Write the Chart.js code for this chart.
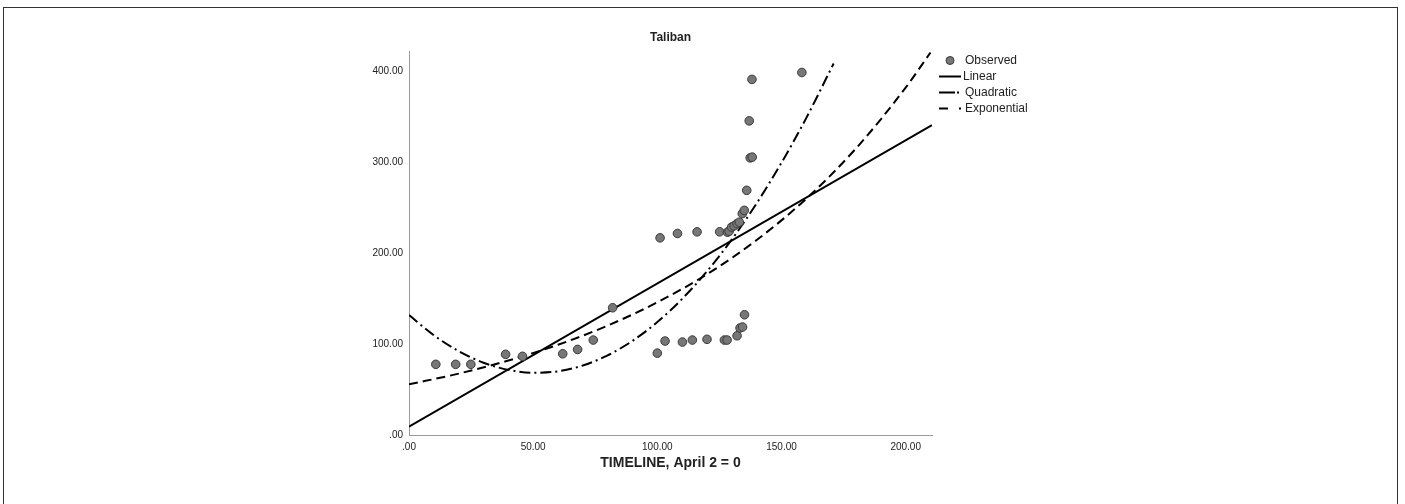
<!DOCTYPE html>
<html>
<head>
<meta charset="utf-8">
<script src="https://cdn.jsdelivr.net/npm/chart.js@4.4.1/dist/chart.umd.min.js"></script>
<style>
html, body { margin: 0; padding: 0; background: #fff; }
#wrap { position: relative; width: 1405px; height: 504px; overflow: hidden; }
#frame { position: absolute; left: 3px; top: 7px; width: 1395px; height: 520px; border: 1px solid #333; box-sizing: border-box; }
canvas { position: absolute; left: 0; top: 0; }
</style>
</head>
<body>
<div id="wrap">
  <div id="frame"></div>
  <canvas id="chart" width="1405" height="504"></canvas>
</div>
<script>
// observed points (x = days since April 2)
const obsX = [10.8, 18.8, 24.9, 38.9, 45.7, 61.9, 67.9, 74.2, 82.0, 100.0,
              101.1, 103.1, 108.1, 110.1, 114.1, 116.0, 120.0, 125.1, 127.0, 128.1,
              128.2, 128.9, 129.9, 130.9, 132.1, 132.1, 133.0, 133.3, 134.2, 134.3,
              135.0, 135.1, 136.0, 137.0, 137.4, 138.1, 138.2, 158.2];
const obsY = [77.7, 77.7, 77.7, 88.7, 86.5, 89.3, 94.1, 104.4, 139.9, 90.0,
              216.8, 103.3, 221.6, 102.2, 104.4, 223.4, 105.2, 223.4, 104.4, 104.4,
              223.0, 224.0, 228.6, 230.0, 232.4, 109.1, 234.0, 117.6, 243.4, 118.7,
              247.0, 132.2, 269.0, 345.4, 304.7, 391.0, 305.5, 398.6];

// fitted curves
const linX = [0, 210.6];
const linY = [9.1, 340.7];

const quadX = [0, 10, 20, 30, 40, 50, 60, 70, 80, 90, 100, 110, 120, 130, 140, 150, 160, 171];
const quadY = [131.9, 109.7, 92.2, 79.5, 71.6, 68.4, 70.0, 76.4, 87.6, 103.5, 124.2, 149.7, 180.0, 215.0, 254.8, 299.4, 348.7, 408.5];

const expX = [0, 20, 40, 60, 80, 100, 120, 140, 160, 180, 200, 210];
const expY = [55.7, 67.5, 81.9, 99.2, 120.3, 145.9, 176.8, 214.4, 259.9, 315.1, 382.0, 420.6];

const xTicks = [0, 50, 100, 150, 200];
const yTicks = [0, 100, 200, 300, 400];

const FONT = "Arial, 'Liberation Sans', sans-serif";
const TEXT = '#222';

const pts = (xs, ys) => xs.map((x, i) => ({ x: x, y: ys[i] }));
const fmt = v => v === 0 ? '.00' : v.toFixed(2);

// legend to the right of the plot, SPSS style
const sideLegend = {
    id: 'sideLegend',
    afterDraw(chart) {
        const ctx = chart.ctx;
        const ds = chart.data.datasets;
        const rows = [60.5, 76.5, 92.5, 108.5];
        ctx.save();
        ctx.font = '12px ' + FONT;
        ctx.textBaseline = 'middle';

        // observed marker
        ctx.beginPath();
        ctx.arc(950, rows[0], 4, 0, Math.PI * 2);
        ctx.fillStyle = ds[0].backgroundColor;
        ctx.fill();
        ctx.lineWidth = 1;
        ctx.strokeStyle = ds[0].borderColor;
        ctx.stroke();

        const dashes = [[], [16, 2, 2, 100], [9, 11, 2, 100]];
        for (let i = 1; i < 4; i++) {
            ctx.beginPath();
            ctx.setLineDash(dashes[i - 1]);
            ctx.lineWidth = 2;
            ctx.strokeStyle = '#000';
            ctx.moveTo(939, rows[i]);
            ctx.lineTo(961, rows[i]);
            ctx.stroke();
        }
        ctx.setLineDash([]);
        ctx.fillStyle = TEXT;
        ctx.fillText(ds[0].label, 965, rows[0]);
        ctx.fillText(ds[1].label, 963, rows[1]);
        ctx.fillText(ds[2].label, 965, rows[2]);
        ctx.fillText(ds[3].label, 965, rows[3]);
        ctx.restore();
    }
};

new Chart(document.getElementById('chart'), {
    type: 'scatter',
    data: {
        datasets: [{
            label: 'Observed',
            data: pts(obsX, obsY),
            backgroundColor: '#777777',
            borderColor: '#3a3a3a',
            borderWidth: 1,
            pointRadius: 4.3
        }, {
            type: 'line',
            label: 'Linear',
            data: pts(linX, linY),
            borderColor: '#000',
            borderWidth: 2,
            pointRadius: 0,
            fill: false
        }, {
            type: 'line',
            label: 'Quadratic',
            data: pts(quadX, quadY),
            borderColor: '#000',
            borderWidth: 2,
            borderDash: [11, 4, 2, 4],
            pointRadius: 0,
            cubicInterpolationMode: 'monotone',
            fill: false
        }, {
            type: 'line',
            label: 'Exponential',
            data: pts(expX, expY),
            borderColor: '#000',
            borderWidth: 2,
            borderDash: [9, 5],
            pointRadius: 0,
            cubicInterpolationMode: 'monotone',
            fill: false
        }]
    },
    options: {
        responsive: false,
        animation: false,
        layout: { padding: { left: 349, right: 473, top: 16.8, bottom: 0 } },
        plugins: {
            legend: { display: false },
            tooltip: { enabled: false },
            title: {
                display: true,
                text: 'Taliban',
                fullSize: false,
                color: TEXT,
                font: { family: FONT, size: 12, weight: 'bold' },
                padding: { top: 14, bottom: 6 }
            }
        },
        scales: {
            x: {
                type: 'linear',
                min: 0,
                max: 210.6,
                afterFit: s => { s.height = 69; },
                afterBuildTicks: s => { s.ticks = xTicks.map(v => ({ value: v })); },
                ticks: {
                    padding: 6,
                    color: TEXT,
                    font: { family: FONT, size: 10 },
                    maxRotation: 0,
                    callback: v => fmt(v)
                },
                grid: { display: true, drawOnChartArea: false, drawTicks: false },
                border: { display: true, color: '#9a9a9a', width: 1 },
                title: {
                    display: true,
                    text: 'TIMELINE, April 2 = 0',
                    color: TEXT,
                    font: { family: FONT, size: 14, weight: 'bold' },
                    padding: { top: 0, bottom: 32.6 }
                }
            },
            y: {
                type: 'linear',
                min: 0,
                max: 422,
                afterFit: s => { s.width = 60; },
                afterBuildTicks: s => { s.ticks = yTicks.map(v => ({ value: v })); },
                ticks: {
                    padding: 6,
                    color: TEXT,
                    font: { family: FONT, size: 10 },
                    callback: v => fmt(v)
                },
                grid: { display: true, drawOnChartArea: false, drawTicks: false },
                border: { display: true, color: '#9a9a9a', width: 1 }
            }
        }
    },
    plugins: [sideLegend]
});
</script>
</body>
</html>
